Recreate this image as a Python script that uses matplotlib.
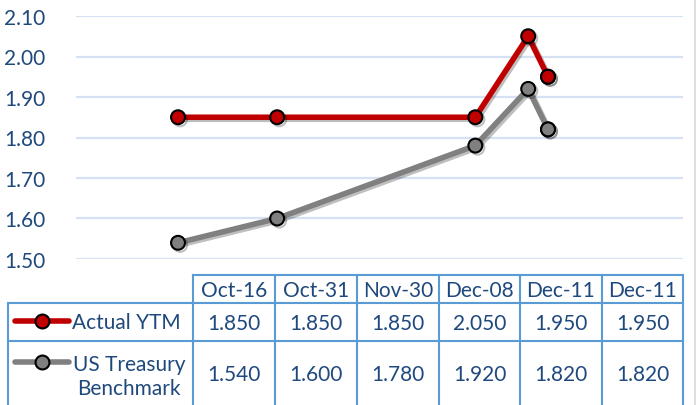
import matplotlib
matplotlib.use("Agg")
import matplotlib.pyplot as plt
import matplotlib.patheffects as pe
from matplotlib.lines import Line2D
import numpy as np
import matplotlib.dates as mdates
import datetime as dt

# ---- data ----
dates = ["2017-10-16", "2017-10-31", "2017-11-30", "2017-12-08", "2017-12-11", "2017-12-11"]
col_labels = ["Oct-16", "Oct-31", "Nov-30", "Dec-08", "Dec-11", "Dec-11"]
actual_ytm = [1.85, 1.85, 1.85, 2.05, 1.95, 1.95]
treasury = [1.54, 1.60, 1.78, 1.92, 1.82, 1.82]
series_names = ["Actual YTM", "US Treasury\nBenchmark"]
yticks = [1.50, 1.60, 1.70, 1.80, 1.90, 2.00, 2.10]

RED = "#c00000"
GRAY = "#808080"
TXT = "#1f497d"
BORDER = "#5b9bd5"
GRID = "#d6e2f3"
FONT = "Lato"
FS = 15

W, H = 696, 406
fig = plt.figure(figsize=(W / 100, H / 100), dpi=100)

def fx(px):
    return px / W

def fy(py):
    return 1 - py / H

# axes: plot area spans px 76..683 horizontally, 17..260 vertically
ax = fig.add_axes([fx(76), fy(260), fx(683) - fx(76), fy(17) - fy(260)])
xd = [mdates.date2num(dt.datetime.strptime(d, "%Y-%m-%d")) for d in dates]
x0 = xd[0]
ax.set_xlim(x0 - 15.44, x0 + 76.43)
ax.set_ylim(1.50, 2.10)
for s in ax.spines.values():
    s.set_visible(False)
ax.set_xticks([])
ax.set_yticks(yticks)
ax.set_yticklabels([f"{v:.2f}" for v in yticks], fontfamily=FONT, fontsize=FS, color=TXT)
ax.tick_params(axis="y", length=0, pad=22)
for v in yticks:
    ax.axhline(v, color=GRID, lw=1.6, zorder=0)

LW = 4.0
MS = 10
shadow = [pe.SimpleLineShadow(offset=(1.5, -1.5), shadow_color="black", alpha=0.25), pe.Normal()]
for vals, col in [(treasury, GRAY), (actual_ytm, RED)]:
    ax.plot(xd, vals, color=col, lw=LW, marker="o", markersize=MS,
            markerfacecolor=col, markeredgecolor="black", markeredgewidth=1.5,
            path_effects=shadow, clip_on=False, zorder=3)

# ---- data table ----
col_edges = [193, 275, 357, 439, 520, 602, 683]
row_top, row_h1, row_h2, row_bot = 276, 304, 342, 420
lw = 1.5

def hline(y, x1, x2):
    fig.add_artist(Line2D([fx(x1), fx(x2)], [fy(y), fy(y)], color=BORDER, lw=lw))

def vline(x, y1, y2):
    fig.add_artist(Line2D([fx(x), fx(x)], [fy(y1), fy(y2)], color=BORDER, lw=lw))

hline(row_top, col_edges[0], col_edges[-1])
hline(row_h1, 8, col_edges[-1])
hline(row_h2, 8, col_edges[-1])
vline(8, row_h1, row_bot)
for i, xe in enumerate(col_edges):
    vline(xe, row_top, row_bot)

centers = [(col_edges[i] + col_edges[i + 1]) / 2 for i in range(len(col_labels))]
for c, lab in zip(centers, col_labels):
    fig.text(fx(c), fy((row_top + row_h1) / 2 + 1), lab, ha="center", va="center",
             fontfamily=FONT, fontsize=FS, color=TXT)
for c, v in zip(centers, actual_ytm):
    fig.text(fx(c), fy((row_h1 + row_h2) / 2 + 1), f"{v:.3f}", ha="center", va="center",
             fontfamily=FONT, fontsize=FS, color=TXT)
for c, v in zip(centers, treasury):
    fig.text(fx(c), fy(375), f"{v:.3f}", ha="center", va="center",
             fontfamily=FONT, fontsize=FS, color=TXT)

# legend keys
for ykey, col in [(322, RED), (363, GRAY)]:
    fig.add_artist(Line2D([fx(15), fx(69)], [fy(ykey), fy(ykey)], color=col, lw=LW,
                          solid_capstyle="round"))
    fig.add_artist(Line2D([fx(42)], [fy(ykey)], marker="o", markersize=MS,
                          markerfacecolor=col, markeredgecolor="black", markeredgewidth=1.5))
fig.text(fx(72), fy(323), series_names[0], ha="left", va="center",
         fontfamily=FONT, fontsize=FS, color=TXT)
fig.text(fx(129), fy(377), series_names[1], ha="center", va="center", multialignment="center",
         fontfamily=FONT, fontsize=FS, color=TXT, linespacing=1.3)

# right chart border
fig.add_artist(Line2D([fx(694.5), fx(694.5)], [0, 1], color="#d9d9d9", lw=1.2))

fig.savefig("out.png", dpi=100)
